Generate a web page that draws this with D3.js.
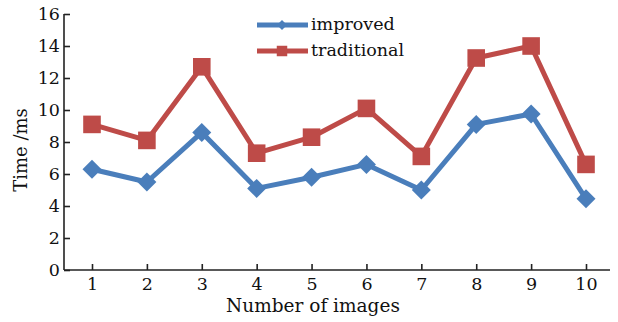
<!DOCTYPE html>
<html><head><meta charset="utf-8">
<script src="https://cdn.jsdelivr.net/npm/d3@7"></script>
<style>body{margin:0;background:#fff}svg{display:block}text{font-family:"DejaVu Serif",serif;fill:#111}</style>
</head><body><svg id="c" width="618" height="322"></svg>
<script>
const categories = [1,2,3,4,5,6,7,8,9,10];
const improved = [6.3,5.5,8.6,5.1,5.8,6.6,5.0,9.1,9.75,4.45];
const traditional = [9.1,8.1,12.7,7.3,8.3,10.1,7.1,13.25,14.0,6.6];
const yTicks = [0,2,4,6,8,10,12,14,16];
const seriesNames = ["improved","traditional"];
const colors = ["#4a7ebb","#be4b48"];

const svg = d3.select("#c");
const x = d3.scalePoint().domain(categories).range([92,586]);
const y = d3.scaleLinear().domain([0,16]).range([270,14]);

const yAxis = svg.append("g").attr("transform","translate(64,0)")
  .call(d3.axisLeft(y).tickValues(yTicks).tickSize(-6).tickSizeOuter(0).tickPadding(4));
const xAxis = svg.append("g").attr("transform","translate(0,270)")
  .call(d3.axisBottom(x).tickSize(-6).tickSizeOuter(0).tickPadding(8));
[yAxis,xAxis].forEach(a=>{
  a.selectAll("path,line").attr("stroke","#222").attr("stroke-width",1.6);
  a.selectAll("text").attr("font-size",17.5).attr("fill","#111").style("font-family","DejaVu Serif, serif");
});
xAxis.select(".domain").attr("d","M64,0H610");
yAxis.select(".domain").attr("d","M0,270V14");

const data = [improved, traditional];
data.forEach((vals,i)=>{
  const pts = vals.map((v,j)=>[x(categories[j]), y(v)]);
  svg.append("path").attr("d", d3.line()(pts)).attr("fill","none")
    .attr("stroke",colors[i]).attr("stroke-width",5).attr("stroke-linejoin","round");
  svg.selectAll(null).data(pts).enter().append("path")
    .attr("transform",d=>`translate(${d[0]},${d[1]})${i===0?" rotate(45)":""}`)
    .attr("d", i===0 ? d3.symbol(d3.symbolSquare, 180)() : d3.symbol(d3.symbolSquare, 310)())
    .attr("fill",colors[i]);
});

// legend
seriesNames.forEach((n,i)=>{
  const ly = 25 + i*26;
  svg.append("line").attr("x1",257).attr("x2",308).attr("y1",ly).attr("y2",ly)
    .attr("stroke",colors[i]).attr("stroke-width",5);
  svg.append("path").attr("transform",`translate(282,${ly})${i===0?" rotate(45)":""}`)
    .attr("d", i===0 ? d3.symbol(d3.symbolSquare, 50)() : d3.symbol(d3.symbolSquare, 110)())
    .attr("fill",colors[i]);
  svg.append("text").attr("x",311).attr("y",ly+5).attr("font-size",17.5).text(n);
});

svg.append("text").attr("transform","translate(27,150) rotate(-90)")
  .attr("text-anchor","middle").attr("font-size",18).text("Time /ms");
svg.append("text").attr("x",313).attr("y",312)
  .attr("text-anchor","middle").attr("font-size",18.5).text("Number of images");
</script></body></html>
